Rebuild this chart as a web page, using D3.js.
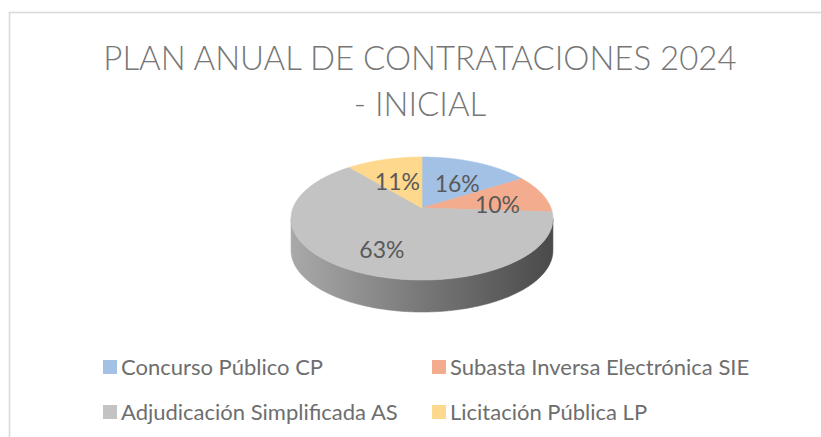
<!DOCTYPE html>
<html>
<head>
<meta charset="utf-8">
<script src="https://cdn.jsdelivr.net/npm/d3@7"></script>
<style>
  body { margin: 0; background: #fff; }
  svg { display: block; font-family: Lato, "Open Sans", sans-serif; }
</style>
</head>
<body>
<div id="chart"></div>
<script>
// Data
const categories = ["Concurso Público CP", "Subasta Inversa Electrónica SIE", "Adjudicación Simplificada AS", "Licitación Pública LP"];
const shares = [16, 10, 63, 11];
const colors = ["#a3c1e5", "#f3ad8e", "#c3c3c3", "#fed88c"];
const titleLines = ["PLAN ANUAL DE CONTRATACIONES 2024", "- INICIAL"];

const W = 821, H = 437;

const svg = d3.select("#chart")
    .append("svg")
    .attr("width", W)
    .attr("height", H);

// Chart area border (only top and left edges fall inside the window)
svg.append("rect")
    .attr("x", 9.5)
    .attr("y", 12.5)
    .attr("width", 900)
    .attr("height", 500)
    .attr("fill", "none")
    .attr("stroke", "#d9d9d9")
    .attr("stroke-width", 1.6);

// Title
svg.append("text")
    .attr("text-anchor", "middle")
    .attr("fill", "#767676")
    .attr("font-size", 33)
    .attr("font-weight", 300)
    .selectAll("tspan")
    .data(titleLines)
    .join("tspan")
    .attr("x", 420)
    .attr("y", (d, i) => 70 + i * 46)
    .text(d => d);

// 3D pie projection (perspective tilted circle)
const cx = 422, cy = 208;
const a = 129, b = 59.7, p = -0.171, depth = 32;

function project(theta, r) {
    const X = r * Math.sin(theta), Y = -r * Math.cos(theta);
    const w = 1 + p * Y;
    return [cx + a * X / w, cy + b * Y / w];
}

function arcPoints(s, e, r) {
    const n = Math.max(2, Math.ceil((e - s) / 0.01));
    return d3.range(n + 1).map(i => project(s + (e - s) * i / n, r));
}

const pie = d3.pie().sort(null).value(d => d)
    .startAngle(0).endAngle(2 * Math.PI);
const arcs = pie(shares);

const line = d3.line();
const halfW = a / Math.sqrt(1 - p * p);

// Side gradients
const defs = svg.append("defs");
arcs.forEach((d, i) => {
    const base = d3.color(colors[i]);
    const g = defs.append("linearGradient")
        .attr("id", "side" + i)
        .attr("gradientUnits", "userSpaceOnUse")
        .attr("x1", cx - halfW).attr("x2", cx + halfW)
        .attr("y1", 0).attr("y2", 0);
    g.append("stop").attr("offset", 0).attr("stop-color", base.darker(0.4));
    g.append("stop").attr("offset", 0.5).attr("stop-color", base.darker(1.35));
    g.append("stop").attr("offset", 1).attr("stop-color", base.darker(2.7));
});

// Visible front side range
const vs = Math.acos(p), ve = 2 * Math.PI - Math.acos(p);

const sides = svg.append("g");
arcs.forEach((d, i) => {
    const s = Math.max(d.startAngle, vs), e = Math.min(d.endAngle, ve);
    if (e <= s) return;
    const top = arcPoints(s, e, 1);
    const bottom = top.map(([x, y]) => [x, y + depth]).reverse();
    sides.append("path")
        .attr("d", line(top.concat(bottom)) + "Z")
        .attr("fill", `url(#side${i})`)
        .attr("stroke", `url(#side${i})`)
        .attr("stroke-width", 0.6);
});

// Top faces
const tops = svg.append("g");
arcs.forEach((d, i) => {
    const pts = [project(0, 0)].concat(arcPoints(d.startAngle, d.endAngle, 1));
    tops.append("path")
        .attr("d", line(pts) + "Z")
        .attr("fill", colors[i])
        .attr("stroke", colors[i])
        .attr("stroke-width", 0.6);
});

// Data labels
svg.append("g")
    .selectAll("text")
    .data(arcs)
    .join("text")
    .attr("transform", d => {
        const [x, y] = project((d.startAngle + d.endAngle) / 2, 0.62);
        return `translate(${x},${y + 6})`;
    })
    .attr("text-anchor", "middle")
    .attr("dy", "0.35em")
    .attr("fill", "#595959")
    .attr("font-size", 23)
    .text(d => d.data + "%");

// Legend
const legend = svg.append("g");
const colX = [103, 432], rowY = [367, 412];
const items = legend.selectAll("g")
    .data(categories)
    .join("g")
    .attr("transform", (d, i) => `translate(${colX[i % 2]},${rowY[Math.floor(i / 2)]})`);
items.append("rect")
    .attr("x", 0).attr("y", -7)
    .attr("width", 14).attr("height", 14)
    .attr("fill", (d, i) => colors[i]);
items.append("text")
    .attr("x", 18)
    .attr("dy", "0.36em")
    .attr("fill", "#6e6e6e")
    .attr("font-size", 22)
    .text(d => d);
</script>
</body>
</html>
